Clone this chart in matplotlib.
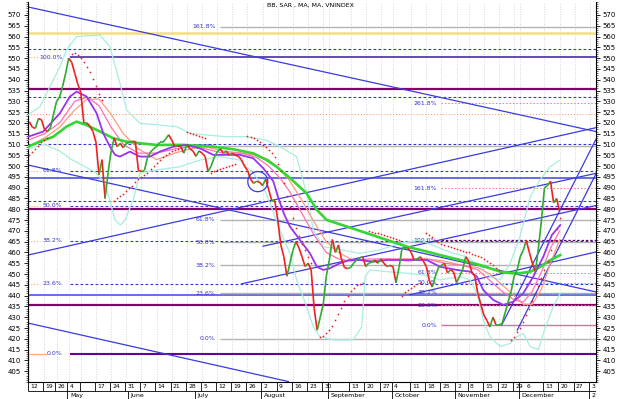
import numpy as np
import pandas as pd
import matplotlib
matplotlib.use("Agg")
import matplotlib.pyplot as plt
from matplotlib.collections import LineCollection
from matplotlib.patches import Ellipse
from matplotlib.ticker import MultipleLocator

# trading calendar (VN holidays + missing sessions)
HOLIDAYS = ["2010-04-23", "2010-04-30", "2010-05-03", "2010-09-02", "2010-11-01"]
days = pd.bdate_range("2010-04-12", "2011-01-05")
days = days[~days.isin(pd.to_datetime(HOLIDAYS))]
day_pos = {d.strftime("%Y-%m-%d"): i for i, d in enumerate(days)}

WEEK_DATES = ["2010-04-12", "2010-04-19", "2010-04-26", "2010-05-04", "2010-05-10", "2010-05-17",
              "2010-05-24", "2010-05-31", "2010-06-07", "2010-06-14", "2010-06-21", "2010-06-28",
              "2010-07-05", "2010-07-12", "2010-07-19", "2010-07-26", "2010-08-02", "2010-08-09",
              "2010-08-16", "2010-08-23", "2010-08-30", "2010-09-01", "2010-09-13", "2010-09-20",
              "2010-09-27", "2010-10-01", "2010-10-11", "2010-10-18", "2010-10-25", "2010-11-02",
              "2010-11-08", "2010-11-15", "2010-11-22", "2010-11-29", "2010-12-01", "2010-12-13",
              "2010-12-20", "2010-12-27", "2011-01-03"]
WEEK_LABELS = ["12", "19", "26", "4", "", "17", "24", "31", "7", "14", "21", "28", "5", "12", "19",
               "26", "2", "9", "16", "23", "30", "", "13", "20", "27", "4", "11", "18", "25", "2",
               "8", "15", "22", "29", "6", "13", "20", "27", "3"]
MONTH_DATES = ["2010-05-04", "2010-06-01", "2010-07-01", "2010-08-02", "2010-09-01",
               "2010-10-01", "2010-11-02", "2010-12-01", "2011-01-03"]
MONTH_LABELS = ["May", "June", "July", "August", "September", "October", "November", "December", "2"]

# VNINDEX close, one value per session from 2010-04-12
CLOSE = [520.5, 518, 517.5, 522, 521.5, 517, 516, 518, 524, 530,
         532, 537, 543, 550, 548, 543, 538, 534, 520, 520,
         518.5, 516, 511, 496, 503, 485, 497, 507, 513, 509,
         510.5, 508.5, 510.5, 511, 511.5, 511.3, 498, 497.5, 498, 504,
         506.5, 508, 509, 511, 511, 512.5, 514.5, 512, 509, 509.5,
         509, 506, 510, 508, 507, 504.5, 507, 506, 504.5, 497.5,
         500, 504, 506.5, 508, 506, 507, 505, 506, 505, 504.5,
         503, 500, 498, 494, 492, 493, 492.5, 491, 494, 489,
         484, 484, 475, 463.5, 458, 449, 455, 461, 465, 462,
         458, 453.5, 455, 452, 434, 424, 430, 436, 449, 456.5,
         466, 460, 463.5, 457, 453, 452.5, 453, 455, 456.5, 457.5,
         458, 453.5, 455, 455.5, 456.5, 455, 457, 455, 453.5, 454,
         453.5, 446, 453, 462, 462, 462, 460, 456.5, 457, 458,
         456, 453.5, 447, 444, 449, 453, 454, 455, 450.5, 452,
         451, 446, 449, 452, 458, 456, 451, 449, 441, 436,
         431, 428.5, 425.5, 430, 426.5, 426.5, 427, 432, 437, 442,
         449, 452, 458, 461, 465.5, 460, 455, 451, 462, 475,
         490, 491, 493, 483, 485, 479]

# moving averages / bands (session index, value)
MA_LONG_X = [-0.4, 3.5, 7.9, 12.3, 15.6, 18.9, 23.3, 27.7, 32.1, 36.5, 42, 50.8, 60.7, 67.3, 73.9,
             78.3, 81.6, 86, 91.5, 94.9, 98.2, 104.8, 111.4, 118, 124.6, 131.2, 135.5, 142.2,
             148.7, 155.4, 158.7, 162, 165.3, 168.7, 172, 175.2]
MA_LONG_Y = [509, 511.3, 513.6, 518.3, 520.6, 519, 516, 512.9, 511.3, 510.6, 509.8, 509.8, 509, 507.8,
             505.9, 502.8, 499.7, 494.5, 487.4, 479.7, 475, 472, 468.9, 465.8, 462.7, 460.4, 458.8,
             456.5, 454.2, 451.1, 450.4, 450.4, 451.1, 453.4, 456.5, 458.8]
MA_SHORT_X = [-0.4, 4.6, 10.1, 13.4, 15.6, 18.9, 22.2, 24.4, 26.6, 28.3, 29.9, 33.2, 36.5, 39.8, 43.1,
              47.5, 51.9, 56.3, 60.7, 65.1, 69.5, 73.9, 77.2, 80.5, 82, 84, 86, 89.3, 92.6, 94.9, 97,
              99.2, 102.5, 105.8, 109.1, 113.5, 118, 122.3, 126.7, 131.2, 135.5, 141.1, 145.5, 147.7,
              149.8, 153.1, 156.4, 159.7, 163, 166.3, 169.6, 172.4, 175.2]
MA_SHORT_Y = [513.6, 516, 524.5, 532.2, 534.5, 532.2, 524.5, 515.2, 509, 505.2, 504.4, 506.7, 504.4,
              504.4, 506.7, 509, 509.8, 508.2, 505.2, 505.2, 505.2, 503.6, 499, 493, 486, 478, 472,
              465.8, 459.6, 453.4, 451.9, 452.7, 455, 456.5, 456.5, 455.7, 456.5, 456.5, 456.5, 456.5,
              453.4, 451.9, 451.1, 448.8, 442.6, 438, 435.7, 437.2, 441.1, 448.8, 458, 468, 472.7]
MA_MID_X = [-0.4, 5, 10, 15, 19, 23, 27, 31, 36, 42, 48, 53, 58, 64, 70, 75, 79, 83, 86, 90, 94, 98,
            102, 106, 112, 118, 125, 131, 137, 143, 148, 152, 156, 160, 163, 166, 169, 172, 175]
MA_MID_Y = [512, 515, 520, 530, 532, 528, 518, 510, 506, 506, 508, 509, 508, 506, 506, 504, 500, 494,
            488, 478, 468, 460, 457, 456, 457, 457, 457, 457, 455, 454, 452, 447, 442, 438, 437, 442,
            451, 462, 470]
BB_MID_Y = [509, 513, 518, 526, 531, 531, 524, 515, 508, 503, 506, 508, 509, 507, 506, 505, 503, 498,
            493, 484, 474, 465, 460, 457, 456, 457, 456, 457, 456, 454, 453, 450, 445, 440, 436, 436,
            443, 455, 466]
BB_UP_X = [-0.4, 3.5, 10.1, 12.3, 15.6, 23.3, 26.6, 29.9, 32.1, 36.5, 43.1, 48.6, 53, 58.5, 65.1, 71.7,
           78.3, 82.7, 88.2, 91.5, 93.7, 97, 109.1, 115.7, 122.3, 128.9, 135.5, 139.9, 144.4, 148.7,
           152, 155.4, 158.7, 161.9, 165.3, 168.5, 171.8, 175.2]
BB_UP_Y = [523.7, 527.5, 546, 553.8, 560, 560.7, 555.3, 538.4, 526, 519.8, 519, 518.3, 515.2, 514.4,
           513.6, 513.6, 512, 509, 504.4, 487.4, 470.4, 462.7, 459.6, 461.2, 464.2, 465.8, 462, 459.6,
           458, 453.4, 448.8, 447.3, 455, 467.3, 485.9, 493.6, 499.7, 502.8]
BB_LO_X = [-0.4, 5, 10, 14, 18, 22, 25, 28.3, 30, 31.6, 34.3, 36.5, 42, 49.7, 56.3, 62.9, 69.5, 73.9,
           77.2, 79.4, 82.7, 86, 88.2, 91.5, 93.7, 95.9, 100.3, 106.9, 109.7, 110.8, 112.4, 118, 124.6,
           130.1, 135.5, 142.2, 145.5, 147.7, 149.8, 152, 155.4, 158.7, 160.9, 163, 165.3, 168,
           169.6, 172.9, 175.2]
BB_LO_Y = [508, 510, 507, 503, 500, 497, 492, 475, 472.7, 475, 484.3, 496.7, 498.2, 499.7, 502.8,
           504.4, 502.8, 496.7, 490.5, 482.8, 470.4, 459.6, 447.3, 435, 425.6, 421, 419.5, 419.5,
           425.6, 448.8, 451.9, 451.1, 450.4, 449.6, 447.3, 448.8, 447.3, 441.1, 428.7, 421, 416.4,
           417.9, 421, 422.5, 416.4, 415, 422.5, 435, 441.1]

# parabolic SAR segments: first session, values
SAR_SEGMENTS = [
    (0, [505, 506.5, 508, 509.5, 511, 512, 513]),
    (14, [552, 552.5, 551.5, 550, 548, 546, 543.5, 540.5, 537, 533.5, 530.5]),
    (28, [484, 485, 486, 487, 488.5, 490, 491, 492.5, 494, 495, 496, 497, 498.5, 500, 501.5, 503,
          504, 505, 506, 507, 507.5, 508, 508.5]),
    (52, [516, 515.5, 515, 514.5, 514, 513.5, 513]),
    (60, [497, 497.5, 498, 498.5, 499, 499.5, 500, 500.5, 501]),
    (72, [514, 513.5, 513, 512, 511, 510, 509, 507.5, 506, 504, 501, 497.5, 492, 486, 481, 476,
          471.5, 467.5, 464, 461, 458, 455]),
    (96, [421, 421.5, 422.5, 424, 426, 428.5, 431.5, 434.5, 437.5, 440, 442, 443.5, 445, 445.5, 446]),
    (112, [470, 469.6, 469.2, 468.8, 468.4, 468, 467.6, 467.2, 466.8, 466.4, 466]),
    (123, [440, 441.5, 442.5, 443.5, 444.5, 445.5, 446]),
    (131, [469, 468, 467, 466, 465, 464, 463.5, 463, 462.5, 462, 461.5, 461, 460.5, 460, 460, 459.5,
           459, 458.5, 458, 457, 456, 455, 454, 453, 452]),
    (159, [419.5, 421, 423, 425, 428, 431, 434, 437.5, 441, 444.5, 448, 452, 456, 461, 466, 471, 476]),
]

# horizontal levels
BLUE_DASHED = [554.2, 532.0, 510.2, 483.7]
BLUE_SOLID = [494.5, 440.5]
PURPLE_THICK = [535.5, 480.0, 435.5]
YELLOW = [561.7]
ORANGE_DOT = [524.0]
FIB1 = (420.0, 509.3, 63.0, [0.0, 23.6, 38.2, 50.0, 61.8, 100.0, 161.8])
FIB2 = (413.0, 550.3, 13.4, [0.0, 23.6, 38.2, 50.0, 61.8, 100.0])
FIB3 = (426.4, 465.6, 136.0, [0.0, 23.6, 38.2, 50.0, 61.8, 100.0, 161.8, 261.8])

# trend lines (session index, value) start -> end
TREND_X0 = [-0.43, -0.43, -0.43, -0.43, 77.1, 70.1, 125.6, 155.9, 161.0]
TREND_Y0 = [573.7, 500.5, 458.8, 427.3, 462.9, 445.5, 440.4, 426.4, 424.0]
TREND_X1 = [187, 187, 187, 85.5, 187.2, 187.2, 187.2, 187.2, 187.2]
TREND_Y1 = [516.0, 441.7, 517.8, 400.2, 496.7, 481.8, 460.3, 513.0, 497.0]

XMIN, XMAX, YMIN, YMAX = -0.43, 187.0, 400.0, 576.0
W, H = 624, 399
L, R, B, T = 28 / W, 596 / W, 17 / H, 397 / H

plt.rcParams["font.family"] = ["DejaVu Sans"]
fig = plt.figure(figsize=(W / 100, H / 100), dpi=100)
ax = fig.add_axes([L, B, R - L, T - B])
ax.set_xlim(XMIN, XMAX)
ax.set_ylim(YMIN, YMAX)

week_x = [day_pos[d] for d in WEEK_DATES]
for x in week_x:
    ax.axvline(x, color="#c8c8c8", lw=0.6, ls=(0, (1, 2)), zorder=0)

blue = "#3535d0"
lab_kw = dict(color=blue, fontsize=4.5, va="center")

for v in YELLOW:
    ax.axhline(v, color="#f2e07a", lw=1.8, zorder=1)
for v in ORANGE_DOT:
    ax.axhline(v, color="#ff9060", lw=0.7, ls=(0, (1, 2)), zorder=1)
for v in BLUE_DASHED:
    ax.axhline(v, color=blue, lw=0.8, ls=(0, (2.5, 2)), zorder=1)
for v in BLUE_SOLID:
    ax.axhline(v, color="#6a6ae6", lw=1.4, zorder=1)
for v in PURPLE_THICK:
    ax.axhline(v, color="#880066", lw=1.6, zorder=1)

# fib set 1 (grey)
lo, hi, x0, pcts = FIB1
for p in pcts:
    v = lo + (hi - lo) * p / 100
    ax.hlines(v, x0, XMAX, color="#b4b4b4", lw=1.0, zorder=1)
    ax.text(x0 - 1.5, v, f"{p:.1f}%", ha="right", **lab_kw)

# fib set 2 (from the May peak)
lo, hi, x0, pcts = FIB2
for p in pcts:
    v = lo + (hi - lo) * p / 100
    if p == 0:
        ax.hlines(v, XMIN, 6, color="#ffb080", lw=1.0, zorder=1)
        ax.hlines(v, x0, XMAX, color="#660099", lw=1.5, zorder=1)
    elif p == 100:
        ax.hlines(v, XMIN, 3.5, color="#ff9060", lw=0.7, ls=(0, (1, 2)), zorder=1)
        ax.hlines(v, x0, XMAX, color="#3a1aa0", lw=1.1, zorder=1)
    else:
        ax.hlines(v, XMIN, 3.5, color="#ff9060", lw=0.7, ls=(0, (1, 2)), zorder=1)
        ax.hlines(v, x0, XMAX, color=blue, lw=0.8, ls=(0, (2.5, 2)), zorder=1)
    ax.text(11.0, v, f"{p:.1f}%", ha="right", **lab_kw)

# fib set 3 (from the October swing)
lo, hi, x0, pcts = FIB3
for p in pcts:
    v = lo + (hi - lo) * p / 100
    if p == 0:
        ax.hlines(v, x0, XMAX, color="#ee6699", lw=1.0, zorder=1)
    elif p == 100:
        ax.hlines(v, x0, XMAX, color="#660066", lw=0.9, ls=(0, (2, 1.5)), zorder=1)
    else:
        ax.hlines(v, x0, XMAX, color="#ff7090", lw=0.7, ls=(0, (1.5, 2)), zorder=1)
    ax.text(x0 - 1.5, v, f"{p:.1f}%", ha="right", **lab_kw)

for xa, ya, xb, yb in zip(TREND_X0, TREND_Y0, TREND_X1, TREND_Y1):
    ax.plot([xa, xb], [ya, yb], color="#3a3ae0", lw=0.9, zorder=2)

ax.plot(BB_UP_X, BB_UP_Y, color="#a6eee0", lw=0.9, zorder=3)
ax.plot(BB_LO_X, BB_LO_Y, color="#a6eee0", lw=0.9, zorder=3)
ax.plot(MA_MID_X, BB_MID_Y, color="#ff9a80", lw=0.9, zorder=3)
ax.plot(MA_MID_X, MA_MID_Y, color="#ff70b0", lw=0.9, zorder=3)
ax.plot(MA_LONG_X, MA_LONG_Y, color="#33d633", lw=1.9, zorder=4)
ax.plot(MA_SHORT_X, MA_SHORT_Y, color="#9933ee", lw=1.3, zorder=4)

for start, vals in SAR_SEGMENTS:
    ax.scatter(np.arange(start, start + len(vals)), vals, s=1.6, color="#ee2020",
               linewidths=0, zorder=5)

x = np.arange(len(CLOSE))
y = np.array(CLOSE)
segs = np.stack([np.column_stack([x[:-1], y[:-1]]), np.column_stack([x[1:], y[1:]])], axis=1)
cols = np.where(np.diff(y) >= 0, "#2eaa2e", "#ee2020")
ax.add_collection(LineCollection(segs, colors=cols, linewidths=1.2, zorder=6))

ax.add_patch(Ellipse((75.4, 492.8), 6.6, 9.3, fill=False, ec="#3a3ae0", lw=0.9, zorder=7))

# axes styling
ax.set_yticks(np.arange(405, 571, 5))
ax.yaxis.set_minor_locator(MultipleLocator(1))
ax.tick_params(axis="y", which="both", left=True, right=True, labelleft=True, labelright=True,
               labelsize=5, pad=2)
ax.tick_params(axis="y", which="major", length=3, width=0.6)
ax.tick_params(axis="y", which="minor", length=1.5, width=0.4)
ax.set_xticks([])
for s in ["left", "right", "bottom"]:
    ax.spines[s].set_linewidth(0.8)
ax.spines["top"].set_visible(False)

fig.text(0.497, 0.987, "BB, SAR , MA, MA, VNINDEX", fontsize=4.5, ha="center", va="center")

# date strip
ax2 = fig.add_axes([L, 0, R - L, B])
ax2.set_xlim(XMIN, XMAX)
ax2.set_ylim(0, 17)
ax2.axis("off")
ax2.hlines(8, XMIN, XMAX, color="black", lw=0.6)
prev = None
for xp, lab in zip(week_x, WEEK_LABELS):
    ax2.vlines(xp - 0.4, 8, 17, color="black", lw=0.6)
    off = 0.4
    if prev is not None and xp - prev < 3:
        off = 2.2  # narrow previous box: keep labels apart
    ax2.text(xp + off, 12.5, lab, fontsize=4.3, va="center", ha="left")
    prev = xp
for d, lab in zip(MONTH_DATES, MONTH_LABELS):
    xp = day_pos[d] - 0.4
    ax2.vlines(xp, 0, 8, color="black", lw=0.6)
    ax2.text(xp + 0.8, 3.8, lab, fontsize=4.5, va="center", ha="left")

fig.savefig("out.png", dpi=100, facecolor="white")
